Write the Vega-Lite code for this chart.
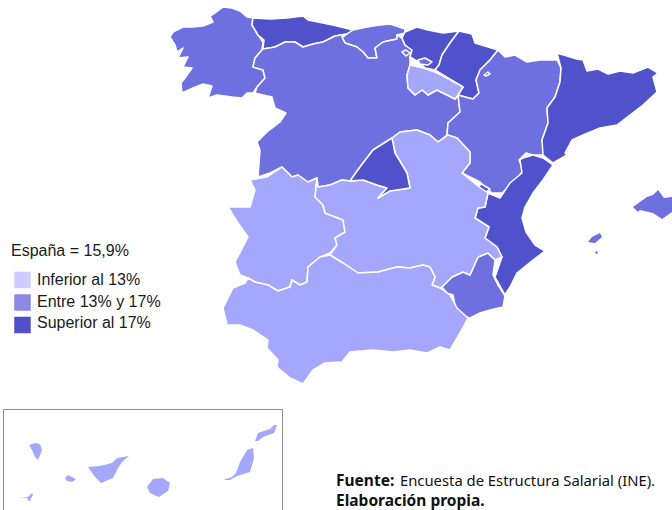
{
"$schema":"https://vega.github.io/schema/vega-lite/v6.json",
"width":672,"height":510,"padding":0,"autosize":"none","background":"white",
"config":{"view":{"stroke":null}},
"projection":{"type":"identity","scale":1,"translate":[0,0]},
"layer":[
{"data":{"values":[
{"type":"Feature","properties":{"region":"Galicia","nivel":"Entre"},"geometry":{"type":"Polygon","coordinates":[[[253,18],[247,17],[240,11],[232,8],[223,7],[215,13],[210,16],[213,22],[203,26],[193,27],[183,27],[173,32],[170,37],[175,45],[177,52],[183,48],[178,58],[188,57],[183,67],[192,68],[185,78],[181,83],[182,93],[193,88],[203,84],[212,86],[208,98],[217,95],[232,97],[242,98],[247,93],[253,93],[257,87],[265,78],[263,70],[253,67],[255,58],[262,50],[263,42],[258,35],[252,25],[253,18]]]}},
{"type":"Feature","properties":{"region":"Asturias","nivel":"Superior"},"geometry":{"type":"Polygon","coordinates":[[[253,18],[270,19],[287,18],[303,16],[308,20],[323,23],[337,26],[353,30],[347,34],[335,36],[323,42],[313,44],[303,47],[295,42],[285,42],[275,47],[263,49],[264,40],[258,35],[252,25],[253,18]]]}},
{"type":"Feature","properties":{"region":"Cantabria","nivel":"Entre"},"geometry":{"type":"Polygon","coordinates":[[[353,30],[367,27],[380,25],[390,24],[405,29],[405,33],[397,35],[397,39],[383,42],[375,48],[377,58],[368,58],[363,52],[357,47],[345,43],[342,37],[347,34],[353,30]]]}},
{"type":"Feature","properties":{"region":"Castilla y León","nivel":"Entre"},"geometry":{"type":"Polygon","coordinates":[[[262,50],[263,49],[275,47],[285,42],[295,42],[303,47],[313,44],[323,42],[335,36],[347,34],[342,37],[345,43],[357,47],[363,52],[368,58],[377,58],[375,48],[383,42],[397,39],[397,35],[402,38],[405,45],[412,50],[410,57],[410,65],[407,75],[408,88],[415,95],[422,90],[428,95],[437,90],[447,95],[455,99],[458,95],[460,112],[448,123],[447,135],[438,142],[430,135],[417,130],[400,132],[392,138],[373,150],[360,167],[350,181],[342,180],[330,185],[318,187],[317,178],[308,182],[298,175],[292,177],[282,167],[270,173],[258,177],[260,150],[257,142],[267,132],[280,122],[286,113],[275,108],[272,97],[263,95],[255,93],[257,87],[265,78],[263,70],[253,67],[255,58],[262,50]]]}},
{"type":"Feature","properties":{"region":"País Vasco","nivel":"Superior"},"geometry":{"type":"Polygon","coordinates":[[[405,32],[417,27],[428,30],[443,33],[459,31],[450,43],[442,55],[439,65],[435,70],[425,68],[420,63],[410,57],[412,50],[405,45],[402,38],[405,32]]]}},
{"type":"Feature","properties":{"region":"Navarra","nivel":"Superior"},"geometry":{"type":"Polygon","coordinates":[[[459,31],[472,34],[475,43],[488,47],[498,50],[490,60],[480,70],[476,80],[479,93],[473,99],[465,97],[458,95],[463,87],[448,78],[435,70],[439,65],[442,55],[450,43],[459,31]]]}},
{"type":"Feature","properties":{"region":"La Rioja","nivel":"Inferior"},"geometry":{"type":"Polygon","coordinates":[[[410,65],[423,68],[435,72],[447,78],[463,87],[458,95],[455,99],[447,95],[437,90],[428,95],[422,90],[415,95],[408,88],[407,75],[410,65]]]}},
{"type":"Feature","properties":{"region":"Aragón","nivel":"Entre"},"geometry":{"type":"Polygon","coordinates":[[[498,50],[505,57],[515,55],[527,62],[540,60],[557,60],[561,68],[560,82],[555,97],[547,108],[548,123],[542,140],[545,155],[533,155],[526,153],[519,160],[523,170],[515,182],[502,193],[492,193],[480,182],[462,173],[470,163],[470,152],[457,138],[447,135],[448,123],[460,112],[458,95],[465,97],[473,99],[479,93],[476,80],[480,70],[490,60],[498,50]]]}},
{"type":"Feature","properties":{"region":"Petilla de Aragón","nivel":"Superior"},"geometry":{"type":"Polygon","coordinates":[[[484,75],[488,72],[490,74],[486,76],[484,75]]]}},
{"type":"Feature","properties":{"region":"Cataluña","nivel":"Superior"},"geometry":{"type":"Polygon","coordinates":[[[557,53],[567,56],[577,59],[583,60],[587,71],[598,69],[608,74],[620,71],[633,73],[648,67],[658,73],[653,77],[657,92],[643,105],[630,115],[617,125],[600,128],[583,135],[572,140],[565,153],[567,155],[553,163],[543,155],[542,140],[548,123],[547,108],[555,97],[560,82],[561,68],[557,53]]]}},
{"type":"Feature","properties":{"region":"Comunidad Valenciana","nivel":"Superior"},"geometry":{"type":"Polygon","coordinates":[[[523,158],[533,155],[543,158],[553,165],[543,180],[533,193],[525,207],[522,218],[526,232],[535,245],[545,251],[533,260],[517,273],[510,287],[505,295],[495,277],[502,257],[497,247],[485,238],[489,227],[475,218],[478,208],[485,207],[488,193],[500,198],[510,183],[522,173],[520,160],[523,158]]]}},
{"type":"Feature","properties":{"region":"Rincón de Ademuz","nivel":"Superior"},"geometry":{"type":"Polygon","coordinates":[[[478,187],[481,184],[490,189],[486,192],[480,190],[478,187]]]}},
{"type":"Feature","properties":{"region":"Murcia","nivel":"Entre"},"geometry":{"type":"Polygon","coordinates":[[[442,287],[452,277],[463,272],[470,275],[478,257],[488,253],[495,260],[493,275],[498,285],[505,296],[503,307],[490,310],[480,313],[470,318],[460,315],[455,305],[453,295],[447,293],[442,287]]]}},
{"type":"Feature","properties":{"region":"Extremadura","nivel":"Inferior"},"geometry":{"type":"Polygon","coordinates":[[[250,180],[267,177],[282,167],[292,177],[298,175],[308,182],[317,178],[315,197],[323,205],[325,213],[343,220],[345,232],[335,238],[337,245],[330,253],[320,257],[308,267],[307,282],[300,285],[292,280],[290,287],[278,291],[268,285],[255,282],[248,278],[240,275],[235,262],[248,237],[243,230],[238,223],[228,207],[250,207],[255,190],[250,180]]]}},
{"type":"Feature","properties":{"region":"Castilla-La Mancha","nivel":"Inferior"},"geometry":{"type":"Polygon","coordinates":[[[392,138],[400,132],[417,130],[430,135],[438,142],[448,135],[457,138],[470,152],[470,163],[462,173],[478,186],[488,193],[485,207],[478,208],[475,218],[489,227],[485,238],[497,247],[502,257],[495,260],[488,253],[478,257],[470,275],[463,272],[452,277],[442,287],[440,288],[432,285],[435,277],[430,267],[423,265],[410,268],[397,267],[378,272],[358,273],[343,263],[330,255],[337,245],[335,238],[345,232],[343,220],[325,213],[323,205],[315,197],[317,178],[318,187],[330,185],[342,180],[350,181],[363,180],[377,185],[387,188],[378,198],[390,191],[410,188],[407,173],[395,153],[392,138]]]}},
{"type":"Feature","properties":{"region":"Madrid","nivel":"Superior"},"geometry":{"type":"Polygon","coordinates":[[[392,138],[395,153],[407,173],[410,188],[390,191],[378,198],[387,188],[377,185],[363,180],[350,181],[360,167],[373,150],[392,138]]]}},
{"type":"Feature","properties":{"region":"Andalucía","nivel":"Inferior"},"geometry":{"type":"Polygon","coordinates":[[[233,288],[245,283],[248,278],[255,282],[268,285],[278,291],[290,287],[292,280],[300,285],[307,282],[308,267],[320,257],[330,255],[343,263],[358,273],[378,272],[397,267],[410,268],[423,265],[430,267],[435,277],[432,285],[440,288],[450,295],[457,308],[468,318],[460,333],[450,350],[440,347],[427,353],[410,350],[393,352],[373,350],[350,352],[342,362],[325,363],[313,370],[303,384],[290,378],[277,367],[278,360],[267,348],[268,340],[253,330],[240,325],[227,325],[223,308],[233,288]]]}},
{"type":"Feature","properties":{"region":"Treviño","nivel":"Entre"},"geometry":{"type":"Polygon","coordinates":[[[418,60],[425,58],[432,62],[428,65],[420,64],[418,60]]]}},
{"type":"Feature","properties":{"region":"Villaverde","nivel":"Entre"},"geometry":{"type":"Polygon","coordinates":[[[402,52],[406,50],[410,53],[406,56],[402,52]]]}}
]},
"mark":{"type":"geoshape","stroke":"white","strokeWidth":1.5,"strokeJoin":"round"},
"encoding":{"fill":{"field":"properties.nivel","type":"nominal","legend":null,"scale":{"domain":["Inferior","Entre","Superior"],"range":["#a5a7fc","#6d70de","#4f52cb"]}}}},
{"data":{"values":[
{"type":"Feature","properties":{"region":"Mallorca","nivel":"Entre"},"geometry":{"type":"Polygon","coordinates":[[[633,207],[647,197],[653,195],[658,190],[664,198],[672,197],[680,197],[680,212],[672,212],[662,219],[653,213],[640,210],[638,212],[633,207]]]}},
{"type":"Feature","properties":{"region":"Ibiza","nivel":"Entre"},"geometry":{"type":"Polygon","coordinates":[[[588,242],[592,237],[600,233],[602,237],[595,243],[588,242]]]}},
{"type":"Feature","properties":{"region":"Formentera","nivel":"Entre"},"geometry":{"type":"Polygon","coordinates":[[[595,252],[597,251],[598,253],[596,254],[595,252]]]}},
{"type":"Feature","properties":{"region":"La Palma","nivel":"Inferior"},"geometry":{"type":"Polygon","coordinates":[[[29,445],[35,443],[40,444],[42,450],[38,460],[35,457],[32,450],[29,445]]]}},
{"type":"Feature","properties":{"region":"El Hierro","nivel":"Inferior"},"geometry":{"type":"Polygon","coordinates":[[[20,498],[28,497],[32,493],[33,495],[29,502],[27,498],[20,498]]]}},
{"type":"Feature","properties":{"region":"La Gomera","nivel":"Inferior"},"geometry":{"type":"Polygon","coordinates":[[[65,478],[68,475],[76,479],[72,482],[67,481],[65,478]]]}},
{"type":"Feature","properties":{"region":"Tenerife","nivel":"Inferior"},"geometry":{"type":"Polygon","coordinates":[[[88,467],[100,466],[112,463],[117,458],[129,456],[122,462],[118,468],[113,478],[101,483],[95,477],[88,467]]]}},
{"type":"Feature","properties":{"region":"Gran Canaria","nivel":"Inferior"},"geometry":{"type":"Polygon","coordinates":[[[147,487],[153,479],[163,478],[170,483],[168,491],[159,497],[150,493],[147,487]]]}},
{"type":"Feature","properties":{"region":"Fuerteventura","nivel":"Inferior"},"geometry":{"type":"Polygon","coordinates":[[[223,480],[232,477],[236,473],[240,462],[247,450],[253,448],[254,458],[250,472],[237,476],[230,480],[223,480]]]}},
{"type":"Feature","properties":{"region":"Lanzarote","nivel":"Inferior"},"geometry":{"type":"Polygon","coordinates":[[[255,441],[258,433],[270,429],[274,425],[277,425],[274,433],[263,437],[258,441],[255,441]]]}}
]},
"mark":{"type":"geoshape","strokeWidth":0},
"encoding":{"fill":{"field":"properties.nivel","type":"nominal","legend":null,"scale":{"domain":["Inferior","Entre","Superior"],"range":["#a5a7fc","#6d70de","#4f52cb"]}}}},
{"data":{"values":[{"type":"Feature","properties":{"region":"Recuadro Canarias"},"geometry":{"type":"Polygon","coordinates":[[[3.5,409.5],[282.5,409.5],[282.5,530],[3.5,530],[3.5,409.5]]]}}]},
"mark":{"type":"geoshape","fill":null,"filled":false,"stroke":"#8c8c8c","strokeWidth":1},"encoding":{}},
{"data":{"values":[
{"nivel":"Inferior","lon":22.5,"lat":280},
{"nivel":"Entre","lon":22.5,"lat":302.5},
{"nivel":"Superior","lon":22.5,"lat":325}
]},
"mark":{"type":"point","shape":"square","filled":true,"size":272,"opacity":1,"strokeWidth":0},
"encoding":{"longitude":{"field":"lon","type":"quantitative"},"latitude":{"field":"lat","type":"quantitative"},
"fill":{"field":"nivel","type":"nominal","legend":null,"scale":{"domain":["Inferior","Entre","Superior"],"range":["#ccccff","#8a8ae2","#5050c8"]}}}},
{"data":{"values":[
{"texto":"España = 15,9%","lon":11,"lat":256},
{"texto":"Inferior al 13%","lon":37,"lat":285},
{"texto":"Entre 13%  y 17%","lon":37,"lat":307},
{"texto":"Superior al 17%","lon":37,"lat":328}
]},
"mark":{"type":"text","align":"left","baseline":"alphabetic","font":"Liberation Sans","fontSize":16,"fill":"#1a1a1a"},
"encoding":{"longitude":{"field":"lon","type":"quantitative"},"latitude":{"field":"lat","type":"quantitative"},"text":{"field":"texto"}}},
{"data":{"values":[
{"texto":"Fuente:","lon":336,"lat":486},
{"texto":"Elaboración propia.","lon":336,"lat":506}
]},
"mark":{"type":"text","align":"left","baseline":"alphabetic","font":"Noto Sans","fontSize":15.5,"fontWeight":"bold","fill":"#111111"},
"encoding":{"longitude":{"field":"lon","type":"quantitative"},"latitude":{"field":"lat","type":"quantitative"},"text":{"field":"texto"}}},
{"data":{"values":[
{"texto":"Encuesta de Estructura Salarial (INE).","lon":400,"lat":486}
]},
"mark":{"type":"text","align":"left","baseline":"alphabetic","font":"Noto Sans","fontSize":14.8,"fill":"#111111"},
"encoding":{"longitude":{"field":"lon","type":"quantitative"},"latitude":{"field":"lat","type":"quantitative"},"text":{"field":"texto"}}}
],
"resolve":{"scale":{"fill":"independent"}}
}
